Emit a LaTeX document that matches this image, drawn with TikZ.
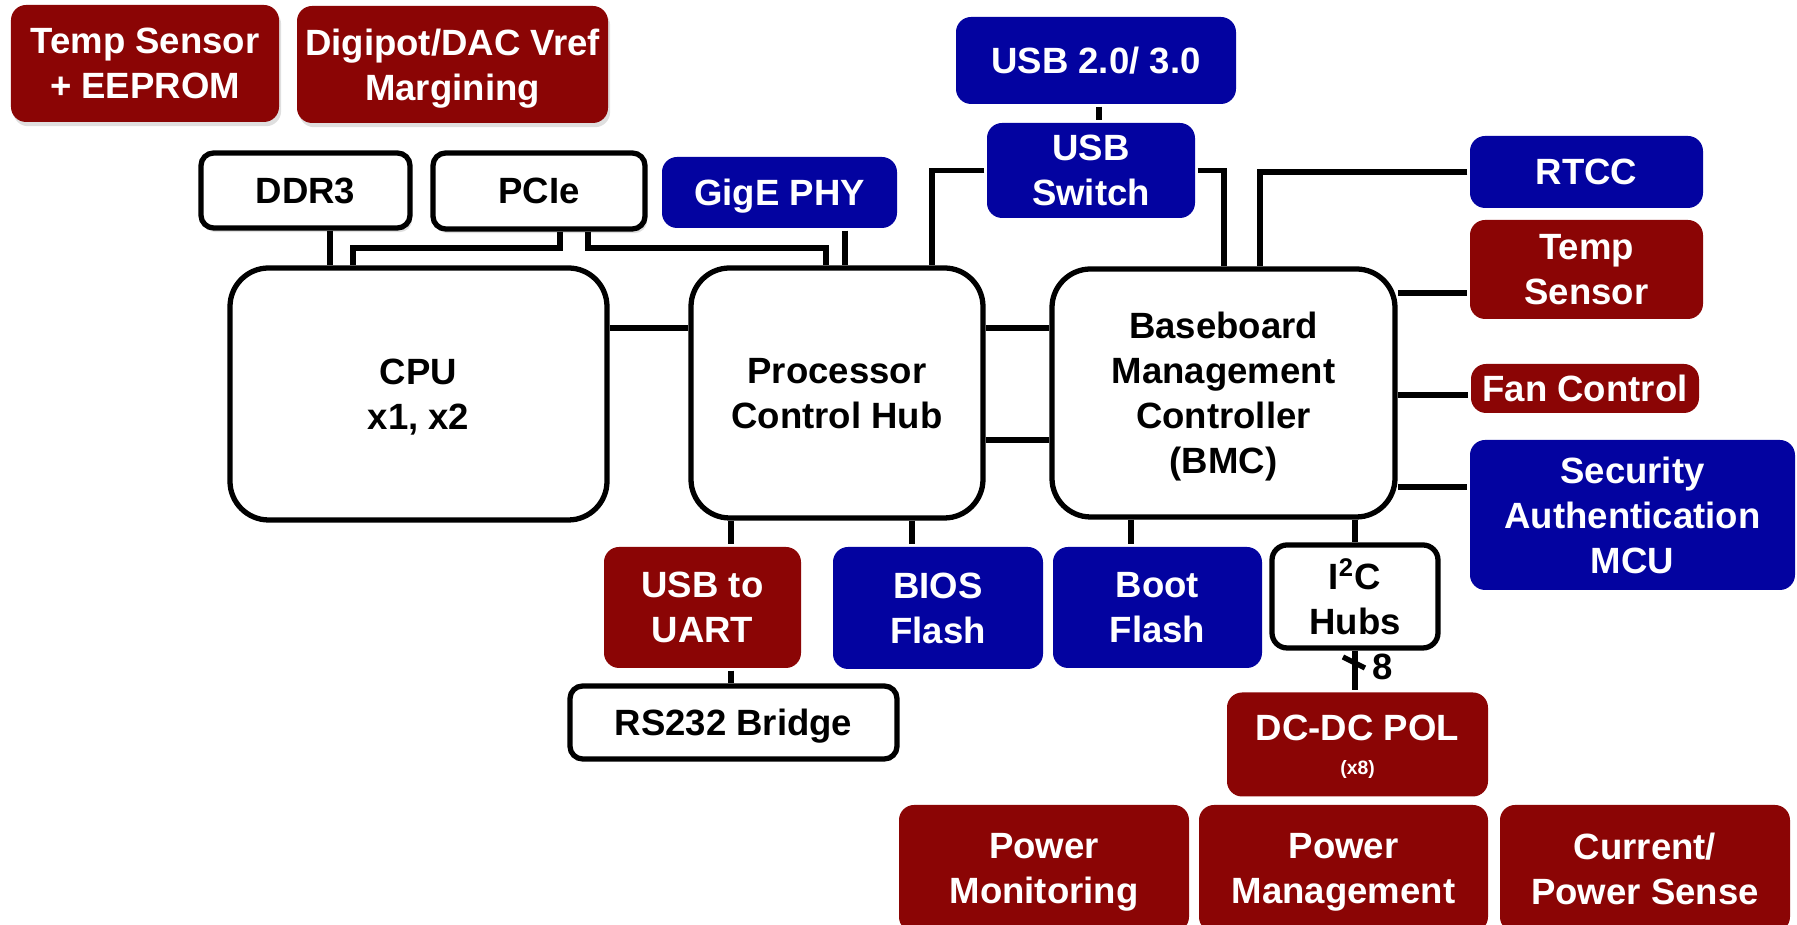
\documentclass[tikz,border=0pt]{standalone}
\usepackage{fontspec}
\setmainfont{Liberation Sans}
\usetikzlibrary{shadows}
\definecolor{boxred}{RGB}{139,5,5}
\definecolor{boxblue}{RGB}{3,3,160}

\begin{document}
\begin{tikzpicture}[x=1cm, y=-1cm, line width=1.5pt,
		every node/.style={font=\fontsize{10.4}{12.8}\selectfont\bfseries, align=center, inner sep=0pt, text depth=0pt},
		redbox/.style={fill=boxred, text=white, rounded corners=4.3pt},
		bluebox/.style={fill=boxblue, text=white, rounded corners=4.3pt},
		whitebox/.style={draw, fill=white, rounded corners=3.6pt},
		bigbox/.style={draw, fill=white, rounded corners=11pt},
		shade/.style={drop shadow={shadow xshift=0.6pt, shadow yshift=-1.2pt, opacity=0.25}}]
	\useasboundingbox[fill=white] (0,0) rectangle (17.97,9.25);
	
	% 左上角模块
	\node[redbox, shade, minimum width=2.68cm, minimum height=1.17cm] (TSE) at (1.45,0.635) {Temp Sensor\\+ EEPROM};
	\node[redbox, shade, minimum width=3.11cm, minimum height=1.17cm] (DIGI) at (4.525,0.645) {Digipot/DAC Vref\\Margining};
	
	% 主芯片
	\node[bigbox, minimum width=3.77cm, minimum height=2.52cm] (CPU) at (4.185,3.94) {CPU\\x1, x2};
	\node[bigbox, minimum width=2.92cm, minimum height=2.50cm] (PCH) at (8.37,3.93) {Processor\\Control Hub};
	\node[bigbox, minimum width=3.43cm, minimum height=2.48cm] (BMC) at (12.235,3.93) {Baseboard\\Management\\Controller\\(BMC)};
	
	% 上方外设
	\node[whitebox, shade, minimum width=2.09cm, minimum height=0.75cm] (DDR) at (3.055,1.905) {DDR3};
	\node[whitebox, shade, minimum width=2.12cm, minimum height=0.76cm] (PCIe) at (5.39,1.91) {PCIe};
	\node[bluebox, minimum width=2.35cm, minimum height=0.71cm] (GigE) at (7.795,1.925) {GigE PHY};
	\node[bluebox, minimum width=2.80cm, minimum height=0.87cm] (USB) at (10.96,0.605) {USB 2.0/ 3.0};
	\node[bluebox, minimum width=2.08cm, minimum height=0.95cm] (USBSW) at (10.91,1.705) {USB\\Switch};
	
	% 右侧外设
	\node[bluebox, minimum width=2.33cm, minimum height=0.72cm] (RTCC) at (15.865,1.72) {RTCC};
	\node[redbox, minimum width=2.33cm, minimum height=0.99cm] (TSR) at (15.865,2.695) {Temp\\Sensor};
	\node[redbox, minimum width=2.28cm, minimum height=0.49cm] (FAN) at (15.85,3.885) {Fan Control};
	\node[bluebox, minimum width=3.25cm, minimum height=1.50cm] (SEC) at (16.325,5.15) {Security\\Authentication\\MCU};
	
	% 下方外设
	\node[redbox, minimum width=1.97cm, minimum height=1.21cm] (UART) at (7.025,6.075) {USB to\\UART};
	\node[bluebox, minimum width=2.10cm, minimum height=1.22cm] (BIOS) at (9.38,6.08) {BIOS\\Flash};
	\node[bluebox, minimum width=2.09cm, minimum height=1.21cm] (BOOT) at (11.575,6.075) {Boot\\Flash};
	\node[whitebox, rounded corners=4.3pt, minimum width=1.66cm, minimum height=1.03cm] (I2C) at (13.55,5.965) {I\textsuperscript{2}C\\Hubs};
	\node[whitebox, minimum width=3.27cm, minimum height=0.73cm] (RS232) at (7.335,7.225) {RS232 Bridge};
	\node[redbox, minimum width=2.61cm, minimum height=1.04cm] (DCDC) at (13.575,7.445) {DC-DC POL\\[-3pt]{\fontsize{5.5}{6.5}\selectfont (x8)}};
	
	% 电源模块
	\node[redbox, minimum width=2.90cm, minimum height=1.27cm] (PMON) at (10.44,8.685) {Power\\Monitoring};
	\node[redbox, minimum width=2.89cm, minimum height=1.27cm] (PMGT) at (13.435,8.685) {Power\\Management};
	\node[redbox, minimum width=2.90cm, minimum height=1.27cm] (CUR) at (16.45,8.685) {Current/\\Power Sense};
	
	% 连线
	\draw (3.30,0 |- DDR.south) -- (3.30,0 |- CPU.north);
	\draw (5.60,0 |- PCIe.south) -- (5.60,2.48) -- (3.53,2.48) -- (3.53,0 |- CPU.north);
	\draw (5.88,0 |- PCIe.south) -- (5.88,2.48) -- (8.26,2.48) -- (8.26,0 |- PCH.north);
	\draw (8.45,0 |- GigE.south) -- (8.45,0 |- PCH.north);
	\draw (10.99,0 |- USB.south) -- (10.99,0 |- USBSW.north);
	\draw (USBSW.west) -| (9.32,0 |- PCH.north);
	\draw (USBSW.east) -| (12.24,0 |- BMC.north);
	\draw (RTCC.west) -| (12.60,0 |- BMC.north);
	
	\draw (CPU.east |- 0,3.28) -- (PCH.west |- 0,3.28);
	\draw (PCH.east |- 0,3.28) -- (BMC.west |- 0,3.28);
	\draw (PCH.east |- 0,4.40) -- (BMC.west |- 0,4.40);
	
	\draw (BMC.east |- 0,2.93) -- (TSR.west |- 0,2.93);
	\draw (BMC.east |- 0,3.95) -- (FAN.west |- 0,3.95);
	\draw (BMC.east |- 0,4.87) -- (SEC.west |- 0,4.87);
	
	\draw (7.31,0 |- PCH.south) -- (7.31,0 |- UART.north);
	\draw (9.12,0 |- PCH.south) -- (9.12,0 |- BIOS.north);
	\draw (11.31,0 |- BMC.south) -- (11.31,0 |- BOOT.north);
	\draw (I2C.north |- BMC.south) -- (I2C.north);
	\draw (7.31,0 |- UART.south) -- (7.31,0 |- RS232.north);
	
	% I2C 总线宽度
	\draw (I2C.south) -- (I2C.south |- DCDC.north);
	\coordinate (BUS) at (13.54,6.625);
	\draw (BUS) ++(-0.11,-0.055) -- ++(0.22,0.11);
	\node (N8) at (13.83,6.67) {8};
\end{tikzpicture}
\end{document}
